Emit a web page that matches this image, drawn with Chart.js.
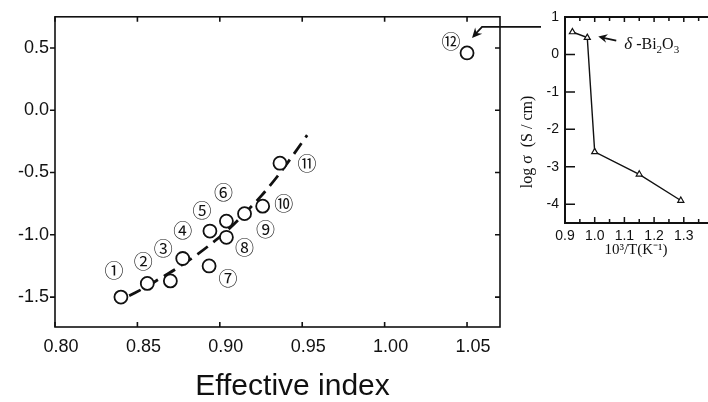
<!DOCTYPE html>
<html>
<head>
<meta charset="utf-8">
<script src="https://cdn.jsdelivr.net/npm/chart.js@4.4.1/dist/chart.umd.min.js"></script>
<style>
  html, body { margin: 0; padding: 0; background: #fff; }
  #wrap { position: relative; width: 708px; height: 402px; overflow: hidden; }
  #mainChart { position: absolute; left: 0; top: 0; }
  #insetChart { position: absolute; left: 515px; top: 0; }
</style>
</head>
<body>
<div id="wrap">
  <canvas id="mainChart" width="708" height="402"></canvas>
  <canvas id="insetChart" width="193" height="270"></canvas>
</div>
<script>
// main plot: effective index vs log sigma
const indexValues = [0.840, 0.856, 0.870, 0.8775, 0.894, 0.904, 0.8935, 0.904, 0.915, 0.926, 0.9365, 1.050];
const logSigmaValues = [-1.50, -1.39, -1.37, -1.19, -0.97, -0.89, -1.25, -1.02, -0.83, -0.77, -0.425, 0.46];
const sampleLabels = ["①", "②", "③", "④", "⑤", "⑥", "⑦", "⑧", "⑨", "⑩", "⑪", "⑫"];
const fitX = [0.845, 0.855, 0.865, 0.875, 0.885, 0.895, 0.905, 0.915, 0.925, 0.935, 0.945, 0.953];
const fitY = [-1.49, -1.42, -1.34, -1.26, -1.17, -1.07, -0.96, -0.83, -0.69, -0.53, -0.35, -0.20];
const xTicks = [0.80, 0.85, 0.90, 0.95, 1.00, 1.05];
const yTicks = [-1.5, -1.0, -0.5, 0.0, 0.5];

// inset: conductivity of Bi2O3
const invTemp = [0.925, 0.975, 1.0, 1.15, 1.29];
const insetLogSigma = [0.6, 0.45, -2.6, -3.2, -3.9];
const insetXTicks = [0.9, 1.0, 1.1, 1.2, 1.3];
const insetMinorTicks = [0.95, 1.05, 1.15, 1.25, 1.35];
const insetYTicks = [-4, -3, -2, -1, 0, 1];

// pixel offsets of the circled numbers from their points
const labelOffsets = [[-7, -26], [-4, -22], [-7, -32], [0, -28], [-8, -20], [-3, -28],
  [19, 13], [18, 10], [21, 16], [21, -2], [27, 1], [-16, -11]];

const sans = "'Liberation Sans', Arial, sans-serif";
const serif = "'Liberation Serif', 'Times New Roman', serif";

function arrowHead(ctx, fromX, fromY, toX, toY, len) {
  const a = Math.atan2(toY - fromY, toX - fromX);
  ctx.beginPath();
  ctx.moveTo(toX, toY);
  ctx.lineTo(toX - len * Math.cos(a - 0.45), toY - len * Math.sin(a - 0.45));
  ctx.lineTo(toX - len * 0.6 * Math.cos(a), toY - len * 0.6 * Math.sin(a));
  ctx.lineTo(toX - len * Math.cos(a + 0.45), toY - len * Math.sin(a + 0.45));
  ctx.closePath();
  ctx.fill();
}

const mainDecor = {
  id: "mainDecor",
  afterDraw(chart) {
    const ctx = chart.ctx;
    const area = chart.chartArea;
    const xs = chart.scales.x;
    const ys = chart.scales.y;
    ctx.save();
    ctx.strokeStyle = "#111";
    ctx.fillStyle = "#111";
    ctx.lineWidth = 1.6;
    ctx.strokeRect(area.left, area.top, area.right - area.left, area.bottom - area.top);

    ctx.beginPath();
    xTicks.forEach((v) => {
      const x = xs.getPixelForValue(v);
      ctx.moveTo(x, area.bottom); ctx.lineTo(x, area.bottom - 5);
      ctx.moveTo(x, area.top); ctx.lineTo(x, area.top + 5);
    });
    yTicks.forEach((v) => {
      const y = ys.getPixelForValue(v);
      ctx.moveTo(area.left - 5, y); ctx.lineTo(area.left, y);
      ctx.moveTo(area.right, y); ctx.lineTo(area.right - 5, y);
    });
    ctx.stroke();

    // circled sample numbers
    ctx.font = "19px 'Noto Sans CJK JP', 'DejaVu Sans', sans-serif";
    ctx.textAlign = "center";
    ctx.textBaseline = "middle";
    sampleLabels.forEach((lab, i) => {
      const px = xs.getPixelForValue(indexValues[i]) + labelOffsets[i][0];
      const py = ys.getPixelForValue(logSigmaValues[i]) + labelOffsets[i][1];
      ctx.fillText(lab, px, py);
    });

    // arrow from inset to point 12
    const p12x = xs.getPixelForValue(indexValues[11]);
    const p12y = ys.getPixelForValue(logSigmaValues[11]);
    const tipX = p12x + 5, tipY = p12y - 15;
    const bendX = p12x + 15, bendY = p12y - 26;
    ctx.lineWidth = 1.8;
    ctx.beginPath();
    ctx.moveTo(area.right + 41, bendY);
    ctx.lineTo(bendX, bendY);
    ctx.lineTo(tipX + 3, tipY - 3.5);
    ctx.stroke();
    arrowHead(ctx, bendX, bendY, tipX, tipY, 11);

    // x title
    ctx.font = "30px " + sans;
    ctx.textBaseline = "middle";
    ctx.fillText("Effective index", (area.left + area.right) / 2 + 15, 387);
    ctx.restore();
  },
};

new Chart(document.getElementById("mainChart"), {
  type: "scatter",
  data: {
    datasets: [
      {
        data: indexValues.map((x, i) => ({ x: x, y: logSigmaValues[i] })),
        pointStyle: "circle",
        pointRadius: 6.5,
        borderWidth: 1.8,
        borderColor: "#111",
        backgroundColor: "#fff",
        order: 0,
      },
      {
        data: fitX.map((x, i) => ({ x: x, y: fitY[i] })),
        showLine: true,
        pointRadius: 0,
        borderColor: "#111",
        borderWidth: 2.8,
        borderDash: [13, 7],
        cubicInterpolationMode: "monotone",
        order: 1,
      },
    ],
  },
  options: {
    responsive: false,
    animation: false,
    layout: { padding: { left: 0, top: 15, right: 208, bottom: 0 } },
    plugins: { legend: { display: false }, tooltip: { enabled: false } },
    scales: {
      x: {
        type: "linear",
        min: 0.80,
        max: 1.07,
        afterBuildTicks: (s) => { s.ticks = xTicks.map((v) => ({ value: v })); },
        afterFit: (s) => { s.height = 75; },
        grid: { display: false, drawTicks: false },
        border: { display: false },
        ticks: {
          callback: (v) => Number(v).toFixed(2),
          font: { family: sans, size: 18 },
          color: "#111",
          padding: 9,
          labelOffset: 6,
          maxRotation: 0,
          autoSkip: false,
        },
      },
      y: {
        type: "linear",
        min: -1.74,
        max: 0.75,
        afterBuildTicks: (s) => { s.ticks = yTicks.map((v) => ({ value: v })); },
        afterFit: (s) => { s.width = 55; },
        grid: { display: false, drawTicks: false },
        border: { display: false },
        ticks: {
          callback: (v) => Number(v).toFixed(1),
          font: { family: sans, size: 18 },
          color: "#111",
          padding: 6,
          autoSkip: false,
        },
      },
    },
  },
  plugins: [mainDecor],
});

const insetDecor = {
  id: "insetDecor",
  afterDraw(chart) {
    const ctx = chart.ctx;
    const area = chart.chartArea;
    const xs = chart.scales.x;
    const ys = chart.scales.y;
    ctx.save();
    ctx.strokeStyle = "#111";
    ctx.fillStyle = "#111";
    ctx.lineWidth = 2;
    ctx.beginPath();
    ctx.moveTo(chart.width, area.top);
    ctx.lineTo(area.left, area.top);
    ctx.lineTo(area.left, area.bottom);
    ctx.lineTo(chart.width, area.bottom);
    ctx.stroke();

    ctx.lineWidth = 1.5;
    ctx.beginPath();
    insetYTicks.forEach((v) => {
      const y = ys.getPixelForValue(v);
      ctx.moveTo(area.left, y); ctx.lineTo(area.left + 10, y);
    });
    insetXTicks.forEach((v) => {
      const x = xs.getPixelForValue(v);
      ctx.moveTo(x, area.bottom); ctx.lineTo(x, area.bottom - 6);
      ctx.moveTo(x, area.top); ctx.lineTo(x, area.top + 5);
    });
    insetMinorTicks.forEach((v) => {
      const x = xs.getPixelForValue(v);
      ctx.moveTo(x, area.bottom); ctx.lineTo(x, area.bottom - 4);
      ctx.moveTo(x, area.top); ctx.lineTo(x, area.top + 4);
    });
    ctx.stroke();

    // axis titles
    ctx.font = "16px " + serif;
    ctx.textAlign = "center";
    ctx.textBaseline = "middle";
    ctx.save();
    ctx.translate(13, 142);
    ctx.rotate(-Math.PI / 2);
    ctx.fillText("log σ  (S / cm)", 0, 0);
    ctx.restore();
    ctx.font = "15px " + serif;
    ctx.fillText("10³/T(K⁻¹)", 121, 250);

    // delta-Bi2O3 pointer
    const px = xs.getPixelForValue(invTemp[1]);
    const py = ys.getPixelForValue(insetLogSigma[1]);
    const tipX = px + 11, tipY = py - 1;
    ctx.lineWidth = 1.8;
    ctx.beginPath();
    ctx.moveTo(tipX + 18, tipY + 4);
    ctx.lineTo(tipX + 4, tipY + 1);
    ctx.stroke();
    arrowHead(ctx, tipX + 18, tipY + 4, tipX, tipY, 10);

    let tx = tipX + 26;
    const base = py + 11;
    ctx.textAlign = "left";
    ctx.textBaseline = "alphabetic";
    ctx.font = "italic 17px " + serif;
    ctx.fillText("δ", tx, base);
    tx += ctx.measureText("δ").width + 4;
    const pieces = [["-Bi", 0], ["2", 1], ["O", 0], ["3", 1]];
    pieces.forEach(([t, sub]) => {
      ctx.font = (sub ? "11px " : "16px ") + serif;
      ctx.fillText(t, tx, base + (sub ? 4 : 0));
      tx += ctx.measureText(t).width;
    });
    ctx.restore();
  },
};

new Chart(document.getElementById("insetChart"), {
  type: "scatter",
  data: {
    datasets: [
      {
        data: invTemp.map((x, i) => ({ x: x, y: insetLogSigma[i] })),
        showLine: true,
        pointStyle: "triangle",
        pointRadius: 3.5,
        borderWidth: 1.4,
        borderColor: "#111",
        backgroundColor: "#fff",
        pointBorderWidth: 1.2,
      },
    ],
  },
  options: {
    responsive: false,
    animation: false,
    layout: { padding: { left: 0, top: 17, right: 0, bottom: 0 } },
    plugins: { legend: { display: false }, tooltip: { enabled: false } },
    scales: {
      x: {
        type: "linear",
        min: 0.9,
        max: 1.364,
        afterBuildTicks: (s) => { s.ticks = insetXTicks.map((v) => ({ value: v })); },
        afterFit: (s) => { s.height = 47; },
        grid: { display: false, drawTicks: false },
        border: { display: false },
        ticks: {
          callback: (v) => Number(v).toFixed(1),
          font: { family: sans, size: 14 },
          color: "#111",
          padding: 5,
          maxRotation: 0,
          autoSkip: false,
        },
      },
      y: {
        type: "linear",
        min: -4.5,
        max: 1.0,
        afterBuildTicks: (s) => { s.ticks = insetYTicks.map((v) => ({ value: v })); },
        afterFit: (s) => { s.width = 50; },
        grid: { display: false, drawTicks: false },
        border: { display: false },
        ticks: {
          callback: (v) => String(v),
          font: { family: sans, size: 14 },
          color: "#111",
          padding: 6,
          autoSkip: false,
        },
      },
    },
  },
  plugins: [insetDecor],
});
</script>
</body>
</html>
